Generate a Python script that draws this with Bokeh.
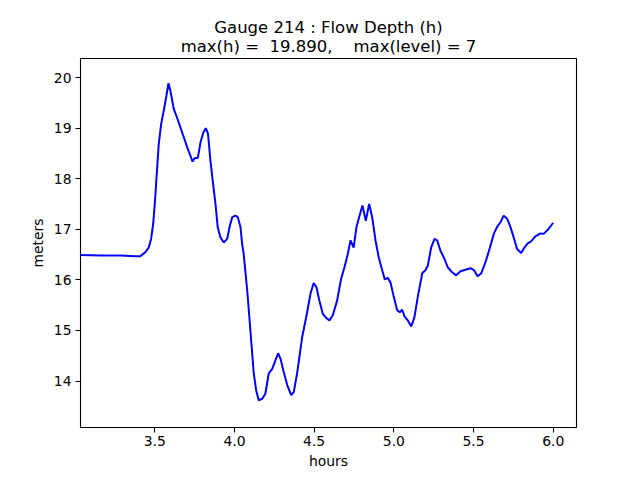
from bokeh.plotting import figure
from bokeh.models import Range1d, FixedTicker, Title
from bokeh.embed import file_html
from bokeh.resources import INLINE

hours = [3.034, 3.159, 3.285, 3.379, 3.410, 3.442, 3.462, 3.477, 3.490, 3.500,
         3.511, 3.525, 3.540, 3.556, 3.573, 3.586, 3.598, 3.619, 3.636, 3.657,
         3.682, 3.707, 3.724, 3.737, 3.751, 3.770, 3.787, 3.804, 3.820, 3.834,
         3.849, 3.866, 3.881, 3.895, 3.912, 3.933, 3.954, 3.971, 3.986, 4.006,
         4.021, 4.038, 4.048, 4.058, 4.080, 4.100, 4.121, 4.136, 4.152, 4.174,
         4.194, 4.215, 4.237, 4.257, 4.274, 4.289, 4.309, 4.331, 4.356, 4.372,
         4.393, 4.425, 4.456, 4.477, 4.497, 4.514, 4.533, 4.554, 4.575, 4.596,
         4.617, 4.644, 4.669, 4.690, 4.711, 4.728, 4.738, 4.748, 4.765, 4.782,
         4.803, 4.824, 4.845, 4.864, 4.885, 4.905, 4.927, 4.943, 4.962, 4.979,
         5.000, 5.021, 5.037, 5.052, 5.067, 5.087, 5.109, 5.129, 5.150, 5.178,
         5.198, 5.213, 5.234, 5.255, 5.272, 5.292, 5.317, 5.338, 5.366, 5.391,
         5.418, 5.449, 5.481, 5.501, 5.526, 5.548, 5.575, 5.602, 5.627, 5.648,
         5.669, 5.689, 5.711, 5.731, 5.752, 5.773, 5.799, 5.819, 5.840, 5.861,
         5.888, 5.920, 5.940, 5.966, 6.000]

depth = [16.49, 16.48, 16.48, 16.47, 16.47, 16.55, 16.64, 16.81, 17.11, 17.50,
         18.03, 18.69, 19.08, 19.34, 19.64, 19.89, 19.74, 19.38, 19.24, 19.05,
         18.82, 18.59, 18.45, 18.34, 18.41, 18.41, 18.72, 18.91, 19.00, 18.89,
         18.36, 17.90, 17.50, 17.04, 16.84, 16.74, 16.81, 17.07, 17.24, 17.27,
         17.24, 17.04, 16.71, 16.51, 15.79, 15.00, 14.15, 13.82, 13.62, 13.65,
         13.75, 14.15, 14.24, 14.41, 14.55, 14.44, 14.18, 13.92, 13.72, 13.78,
         14.15, 14.87, 15.36, 15.73, 15.94, 15.86, 15.59, 15.33, 15.25, 15.20,
         15.30, 15.59, 16.02, 16.25, 16.51, 16.78, 16.71, 16.64, 17.04, 17.24,
         17.47, 17.17, 17.50, 17.24, 16.78, 16.45, 16.19, 16.01, 16.04, 15.95,
         15.66, 15.40, 15.36, 15.41, 15.28, 15.20, 15.08, 15.26, 15.66, 16.13,
         16.19, 16.28, 16.64, 16.81, 16.78, 16.58, 16.42, 16.25, 16.15, 16.09,
         16.17, 16.20, 16.23, 16.20, 16.07, 16.13, 16.35, 16.63, 16.91, 17.05,
         17.14, 17.27, 17.21, 17.05, 16.84, 16.61, 16.53, 16.64, 16.72, 16.76,
         16.86, 16.92, 16.91, 16.99, 17.13]

x_ticks = [3.5, 4.0, 4.5, 5.0, 5.5, 6.0]
x_tick_labels = ["3.5", "4.0", "4.5", "5.0", "5.5", "6.0"]
y_ticks = [14, 15, 16, 17, 18, 19, 20]
y_tick_labels = ["14", "15", "16", "17", "18", "19", "20"]

title_line1 = "Gauge 214 : Flow Depth (h)"
title_line2 = "max(h) = \u00a019.890, \u00a0\u00a0\u00a0max(level) = 7"

FONT = "DejaVu Sans"

p = figure(width=636, height=476, output_backend="svg", toolbar_location=None,
           x_range=Range1d(3.034, 6.146), y_range=Range1d(13.082, 20.377),
           min_border_left=80, min_border_right=60, min_border_top=58,
           min_border_bottom=49)

p.line(hours, depth, line_color="#0000ff", line_width=2)

t2 = Title(text=title_line2, align="center", text_font=FONT,
           text_font_size="16.5px", text_font_style="normal",
           text_color="black", standoff=6)
t1 = Title(text=title_line1, align="center", text_font=FONT,
           text_font_size="16.5px", text_font_style="normal",
           text_color="black", standoff=-10)
p.add_layout(t2, "above")
p.add_layout(t1, "above")

p.xgrid.visible = False
p.ygrid.visible = False
p.outline_line_color = "black"
p.outline_line_width = 1.1
p.outline_line_alpha = 1.0
p.background_fill_color = "white"
p.border_fill_color = "white"

p.xaxis.ticker = FixedTicker(ticks=x_ticks)
p.xaxis.major_label_overrides = dict(zip(x_ticks, x_tick_labels))
p.yaxis.ticker = FixedTicker(ticks=y_ticks)
p.yaxis.major_label_overrides = dict(zip(y_ticks, y_tick_labels))

for ax in (p.xaxis[0], p.yaxis[0]):
    ax.axis_line_color = None
    ax.major_tick_line_color = "black"
    ax.major_tick_line_width = 1.1
    ax.major_tick_out = 5
    ax.major_tick_in = 0
    ax.minor_tick_line_color = None
    ax.major_label_text_font = FONT
    ax.major_label_text_font_size = "13.9px"
    ax.major_label_text_color = "black"
    ax.axis_label_text_font = FONT
    ax.axis_label_text_font_size = "13.9px"
    ax.axis_label_text_font_style = "normal"
    ax.axis_label_text_color = "black"

p.xaxis.axis_label = "hours"
p.yaxis.axis_label = "meters"
p.xaxis.major_label_standoff = 3
p.yaxis.major_label_standoff = 4
p.xaxis.axis_label_standoff = 4
p.yaxis.axis_label_standoff = 5

open("out.html", "w").write(file_html(p, INLINE))
